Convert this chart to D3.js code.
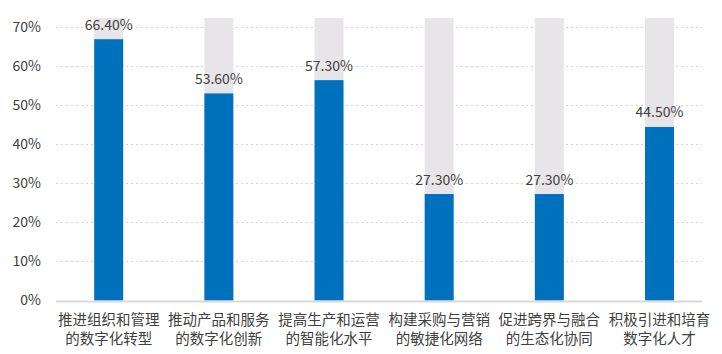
<!DOCTYPE html>
<html>
<head>
<meta charset="utf-8">
<script src="https://cdn.jsdelivr.net/npm/d3@7"></script>
<style>
  html, body { margin: 0; padding: 0; background: #fff; }
  svg { display: block; font-family: "Noto Sans CJK SC", "Noto Sans", sans-serif; }
</style>
</head>
<body>
<div id="chart"></div>
<script>
/* Bar chart: share of firms per digital-transformation goal,
   blue value bar in front of a light grey track bar.
   Bar heights (they differ a little from the printed labels). */
var categories = [
  ['推进组织和管理', '的数字化转型'],
  ['推动产品和服务', '的数字化创新'],
  ['提高生产和运营', '的智能化水平'],
  ['构建采购与营销', '的敏捷化网络'],
  ['促进跨界与融合', '的生态化协同'],
  ['积极引进和培育', '数字化人才']
];
var values = [67.0, 53.1, 56.5, 27.3, 27.3, 44.5];
var labels = ['66.40%', '53.60%', '57.30%', '27.30%', '27.30%', '44.50%'];
var trackValue = 72.4;
var yTicks = [0, 10, 20, 30, 40, 50, 60, 70];

(function () {
  'use strict';
  var W = 722, H = 354;
  var blue = '#0071bc', track = '#e7e5e8', text = '#404040';

  var svg = d3.select('#chart').append('svg').attr('width', W).attr('height', H);

  var x = d3.scaleBand().domain(d3.range(categories.length))
    .range([53.6, 714.6]).paddingInner(0.737).paddingOuter(0.3685);
  var y = d3.scaleLinear().domain([0, 70]).range([300.5, 27.5]);

  /* gridlines */
  svg.append('g').selectAll('line').data(yTicks.filter(function (d) { return d > 0; }))
    .enter().append('line')
    .attr('x1', 56).attr('x2', 702)
    .attr('y1', function (d) { return y(d); }).attr('y2', function (d) { return y(d); })
    .attr('stroke', '#d4d4d4').attr('stroke-width', 1).attr('stroke-dasharray', '2,3');

  /* y tick labels */
  svg.append('g').selectAll('text').data(yTicks).enter().append('text')
    .attr('x', 41).attr('y', function (d) { return y(d); }).attr('dy', '0.35em')
    .attr('text-anchor', 'end')
    .style('fill', text).style('font-size', '14px')
    .text(function (d) { return d + '%'; });

  /* grey track bars */
  svg.append('g').selectAll('rect').data(values).enter().append('rect')
    .attr('x', function (d, i) { return x(i); }).attr('width', x.bandwidth())
    .attr('y', y(trackValue)).attr('height', y(0) - y(trackValue))
    .attr('fill', track);

  /* value bars */
  svg.append('g').selectAll('rect').data(values).enter().append('rect')
    .attr('x', function (d, i) { return x(i); }).attr('width', x.bandwidth())
    .attr('y', function (d) { return y(d); })
    .attr('height', function (d) { return y(0) - y(d); })
    .attr('fill', blue);

  /* baseline */
  svg.append('line')
    .attr('x1', 56).attr('x2', 702).attr('y1', y(0) + 1).attr('y2', y(0) + 1)
    .attr('stroke', '#d9d9d9').attr('stroke-width', 2);

  /* value labels */
  svg.append('g').selectAll('text').data(values).enter().append('text')
    .attr('x', function (d, i) { return x(i) + x.bandwidth() / 2; })
    .attr('y', function (d) { return y(d) - 9.5; })
    .attr('text-anchor', 'middle')
    .style('fill', text).style('font-size', '14px')
    .text(function (d, i) { return labels[i]; });

  /* category labels, two lines */
  var cat = svg.append('g').selectAll('text').data(categories).enter().append('text')
    .attr('text-anchor', 'middle')
    .style('fill', text).style('font-size', '14.5px');
  cat.each(function (d, i) {
    var t = d3.select(this);
    var cx = x(i) + x.bandwidth() / 2;
    t.append('tspan').attr('x', cx).attr('y', 325).text(d[0]);
    t.append('tspan').attr('x', cx).attr('y', 344).text(d[1]);
  });
})();
</script>
</body>
</html>
